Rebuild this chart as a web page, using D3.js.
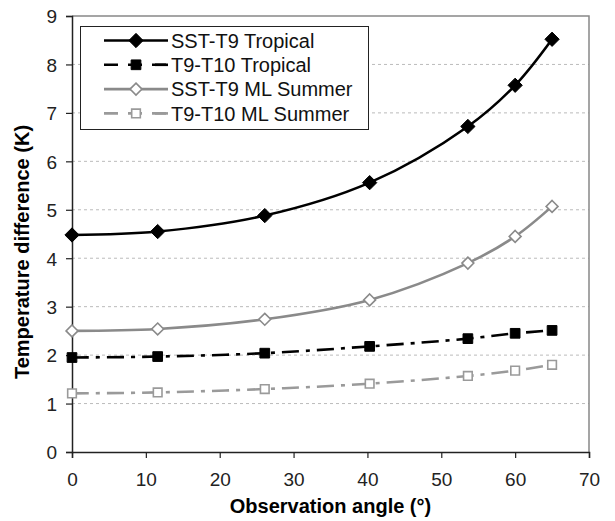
<!DOCTYPE html>
<html>
<head>
<meta charset="utf-8">
<script src="https://cdn.jsdelivr.net/npm/d3@7"></script>
<style>
  body { margin: 0; background: #fff; }
  text { font-family: "Liberation Sans", Arial, sans-serif; }
</style>
</head>
<body>
<div id="content"></div>
<script>
// observation angles (deg)
const angles = [0, 11.6, 26.1, 40.3, 53.6, 60, 65];
const sstT9Tropical = [4.48, 4.55, 4.88, 5.56, 6.72, 7.57, 8.52];
const t9T10Tropical = [1.95, 1.97, 2.04, 2.18, 2.34, 2.45, 2.51];
const sstT9Summer = [2.5, 2.54, 2.74, 3.14, 3.9, 4.45, 5.07];
const t9T10Summer = [1.21, 1.23, 1.3, 1.41, 1.57, 1.68, 1.8];
const xTicks = [0, 10, 20, 30, 40, 50, 60, 70];
const yTicks = [0, 1, 2, 3, 4, 5, 6, 7, 8, 9];

const series = [
  {name: "SST-T9 Tropical", values: sstT9Tropical, color: "#000", dash: null, marker: "diamond", fill: "#000"},
  {name: "T9-T10 Tropical", values: t9T10Tropical, color: "#000", dash: "17,7,4,7", marker: "square", fill: "#000"},
  {name: "SST-T9 ML Summer", values: sstT9Summer, color: "#8a8a8a", dash: null, marker: "diamond", fill: "#fff"},
  {name: "T9-T10 ML Summer", values: t9T10Summer, color: "#9a9a9a", dash: "17,7,4,7", marker: "square", fill: "#fff"}
];

const width = 615, height = 521;
const margin = {top: 16, right: 26, bottom: 69, left: 72};

const svg = d3.select("#content").append("svg")
  .attr("width", width).attr("height", height);

const x = d3.scaleLinear().domain([0, 70]).range([margin.left, width - margin.right]);
const y = d3.scaleLinear().domain([0, 9]).range([height - margin.bottom, margin.top]);

// grid
svg.append("g")
  .selectAll("line")
  .data(yTicks.filter(d => d > 0 && d < 9))
  .enter().append("line")
  .attr("x1", x(0)).attr("x2", x(70))
  .attr("y1", d => y(d)).attr("y2", d => y(d))
  .attr("stroke", "#bbb").attr("stroke-width", 1)
  .attr("stroke-dasharray", "3,3");

// plot frame (top & right)
svg.append("path")
  .attr("d", `M${x(0)},${y(9)}H${x(70)}V${y(0)}`)
  .attr("fill", "none").attr("stroke", "#888").attr("stroke-width", 1.5);

const xAxis = svg.append("g")
  .attr("transform", `translate(0,${y(0)})`)
  .call(d3.axisBottom(x).tickValues(xTicks).tickSize(6).tickPadding(15));
const yAxis = svg.append("g")
  .attr("transform", `translate(${x(0)},0)`)
  .call(d3.axisLeft(y).tickValues(yTicks).tickSize(6).tickPadding(9));

[xAxis, yAxis].forEach(a => {
  a.select(".domain").attr("stroke", "#222").attr("stroke-width", 1.5);
  a.selectAll(".tick line").attr("stroke", "#222").attr("stroke-width", 1.2);
  a.selectAll(".tick text").attr("fill", "#222")
    .style("font-size", "19px")
    .style("font-family", "'Liberation Sans', Arial, sans-serif");
});
yAxis.selectAll(".tick text").attr("dy", "0.36em");

// axis titles
svg.append("text")
  .attr("x", x(35)).attr("y", 513)
  .attr("text-anchor", "middle")
  .style("font-size", "20px").style("font-weight", "bold")
  .text("Observation angle (°)");

svg.append("text")
  .attr("transform", "translate(29,252) rotate(-90)")
  .attr("text-anchor", "middle")
  .style("font-size", "20px").style("font-weight", "bold")
  .text("Temperature difference (K)");

const line = d3.line()
  .x(d => x(d[0])).y(d => y(d[1]))
  .curve(d3.curveCatmullRom.alpha(0.5));

const symDiamond = d3.symbol().type(d3.symbolDiamond2);
const symSquare = d3.symbol().type(d3.symbolSquare2);

function drawMarker(g, s, px, py) {
  const isD = s.marker === "diamond";
  const filled = s.fill !== "#fff";
  const sz = isD ? (filled ? 130 : 90) : (filled ? 120 : 95);
  g.append("path")
    .attr("transform", `translate(${px},${py})`)
    .attr("d", (isD ? symDiamond : symSquare).size(sz)())
    .attr("fill", s.fill)
    .attr("stroke", s.color)
    .attr("stroke-width", filled ? 1 : 1.6);
}

series.forEach(s => {
  const pts = angles.map((a, i) => [a, s.values[i]]);
  const g = svg.append("g");
  g.append("path")
    .datum(pts)
    .attr("d", line)
    .attr("fill", "none")
    .attr("stroke", s.color)
    .attr("stroke-width", 2.6)
    .attr("stroke-dasharray", s.dash);
  pts.forEach(p => drawMarker(g, s, x(p[0]), y(p[1])));
});

// legend
const leg = svg.append("g");
leg.append("rect")
  .attr("x", 80.5).attr("y", 26.5)
  .attr("width", 288).attr("height", 103)
  .attr("fill", "#fff").attr("stroke", "#222").attr("stroke-width", 1);

series.forEach((s, i) => {
  const ly = 40.5 + i * 24.3;
  leg.append("line")
    .attr("x1", 104).attr("x2", 168)
    .attr("y1", ly).attr("y2", ly)
    .attr("stroke", s.color).attr("stroke-width", 2.6)
    .attr("stroke-dasharray", s.dash ? "14,10,0,0" : null);
  if (s.dash) {
    leg.append("line")
      .attr("x1", 155).attr("x2", 168)
      .attr("y1", ly).attr("y2", ly)
      .attr("stroke", s.color).attr("stroke-width", 2.6);
  }
  drawMarker(leg, s, 136, ly);
  leg.append("text")
    .attr("x", 171).attr("y", ly)
    .attr("dy", "0.36em")
    .style("font-size", "20px")
    .attr("fill", "#111")
    .text(s.name);
});
</script>
</body>
</html>
